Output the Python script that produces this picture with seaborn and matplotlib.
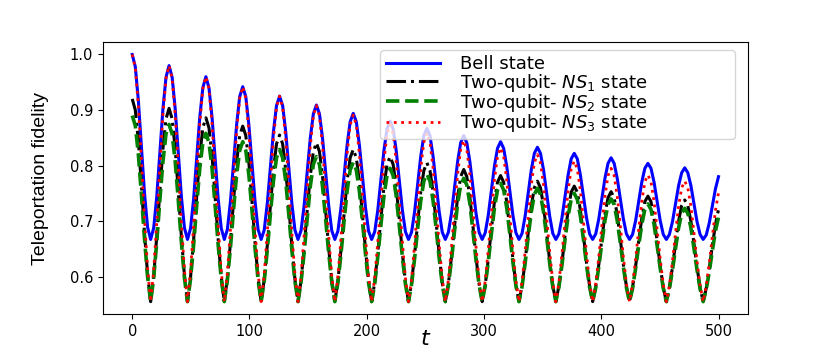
import numpy as np
import matplotlib
matplotlib.use("Agg")
import matplotlib.pyplot as plt
import seaborn as sns

# fidelity values, 12 samples per oscillation (t = 0 .. 500)
bell = [
    1.000, 0.978, 0.917, 0.834, 0.750, 0.689, 0.667, 0.688, 0.745, 0.824, 0.902, 0.959,
    0.980, 0.959, 0.902, 0.824, 0.745, 0.688, 0.667, 0.687, 0.740, 0.814, 0.887, 0.940,
    0.960, 0.940, 0.887, 0.814, 0.740, 0.687, 0.667, 0.685, 0.736, 0.805, 0.873, 0.924,
    0.942, 0.924, 0.873, 0.805, 0.736, 0.685, 0.667, 0.684, 0.732, 0.796, 0.861, 0.908,
    0.925, 0.908, 0.861, 0.796, 0.732, 0.684, 0.667, 0.683, 0.728, 0.788, 0.849, 0.893,
    0.909, 0.893, 0.849, 0.788, 0.728, 0.683, 0.667, 0.682, 0.724, 0.781, 0.837, 0.879,
    0.894, 0.879, 0.837, 0.781, 0.724, 0.682, 0.667, 0.681, 0.720, 0.774, 0.827, 0.866,
    0.880, 0.866, 0.827, 0.774, 0.720, 0.681, 0.667, 0.680, 0.717, 0.767, 0.817, 0.854,
    0.867, 0.854, 0.817, 0.767, 0.717, 0.680, 0.667, 0.680, 0.714, 0.761, 0.807, 0.841,
    0.854, 0.841, 0.807, 0.761, 0.714, 0.680, 0.667, 0.679, 0.711, 0.755, 0.799, 0.831,
    0.843, 0.831, 0.799, 0.755, 0.711, 0.679, 0.667, 0.678, 0.709, 0.750, 0.792, 0.822,
    0.833, 0.822, 0.792, 0.750, 0.709, 0.678, 0.667, 0.677, 0.706, 0.745, 0.783, 0.812,
    0.822, 0.812, 0.783, 0.745, 0.706, 0.677, 0.667, 0.677, 0.704, 0.741, 0.777, 0.804,
    0.814, 0.804, 0.777, 0.741, 0.704, 0.677, 0.667, 0.676, 0.701, 0.736, 0.770, 0.795,
    0.804, 0.795, 0.770, 0.736, 0.701, 0.676, 0.667, 0.676, 0.699, 0.732, 0.764, 0.787,
    0.796, 0.787, 0.764, 0.732, 0.699, 0.676, 0.667, 0.675, 0.697, 0.728, 0.758, 0.780,
]

ns1 = [
    0.920, 0.900, 0.844, 0.764, 0.678, 0.604, 0.555, 0.602, 0.673, 0.754, 0.830, 0.884,
    0.903, 0.884, 0.830, 0.754, 0.673, 0.602, 0.555, 0.599, 0.667, 0.744, 0.817, 0.868,
    0.886, 0.868, 0.817, 0.744, 0.667, 0.599, 0.555, 0.597, 0.662, 0.736, 0.805, 0.854,
    0.871, 0.854, 0.805, 0.736, 0.662, 0.597, 0.555, 0.595, 0.656, 0.727, 0.792, 0.839,
    0.855, 0.839, 0.792, 0.727, 0.656, 0.595, 0.555, 0.593, 0.652, 0.719, 0.781, 0.825,
    0.841, 0.825, 0.781, 0.719, 0.652, 0.593, 0.555, 0.592, 0.648, 0.712, 0.772, 0.814,
    0.829, 0.814, 0.772, 0.712, 0.648, 0.592, 0.555, 0.590, 0.643, 0.704, 0.762, 0.802,
    0.816, 0.802, 0.762, 0.704, 0.643, 0.590, 0.555, 0.589, 0.640, 0.698, 0.753, 0.791,
    0.805, 0.791, 0.753, 0.698, 0.640, 0.589, 0.555, 0.587, 0.635, 0.691, 0.743, 0.780,
    0.793, 0.780, 0.743, 0.691, 0.635, 0.587, 0.555, 0.585, 0.632, 0.685, 0.735, 0.770,
    0.782, 0.770, 0.735, 0.685, 0.632, 0.585, 0.555, 0.584, 0.628, 0.679, 0.727, 0.760,
    0.772, 0.760, 0.727, 0.679, 0.628, 0.584, 0.555, 0.583, 0.625, 0.674, 0.720, 0.752,
    0.763, 0.752, 0.720, 0.674, 0.625, 0.583, 0.555, 0.582, 0.622, 0.668, 0.712, 0.742,
    0.753, 0.742, 0.712, 0.668, 0.622, 0.582, 0.555, 0.581, 0.619, 0.664, 0.705, 0.735,
    0.745, 0.735, 0.705, 0.664, 0.619, 0.581, 0.555, 0.580, 0.617, 0.660, 0.700, 0.728,
    0.738, 0.728, 0.700, 0.660, 0.617, 0.580, 0.555, 0.579, 0.615, 0.656, 0.694, 0.721,
]

ns2 = [
    0.890, 0.872, 0.820, 0.747, 0.668, 0.600, 0.555, 0.598, 0.663, 0.738, 0.807, 0.857,
    0.874, 0.857, 0.807, 0.738, 0.663, 0.598, 0.555, 0.596, 0.657, 0.728, 0.795, 0.841,
    0.858, 0.841, 0.795, 0.728, 0.657, 0.596, 0.555, 0.594, 0.652, 0.720, 0.783, 0.827,
    0.843, 0.827, 0.783, 0.720, 0.652, 0.594, 0.555, 0.592, 0.648, 0.712, 0.772, 0.814,
    0.829, 0.814, 0.772, 0.712, 0.648, 0.592, 0.555, 0.590, 0.643, 0.704, 0.762, 0.802,
    0.816, 0.802, 0.762, 0.704, 0.643, 0.590, 0.555, 0.589, 0.640, 0.699, 0.754, 0.792,
    0.806, 0.792, 0.754, 0.699, 0.640, 0.589, 0.555, 0.587, 0.636, 0.692, 0.745, 0.782,
    0.795, 0.782, 0.745, 0.692, 0.636, 0.587, 0.555, 0.586, 0.633, 0.687, 0.737, 0.772,
    0.785, 0.772, 0.737, 0.687, 0.633, 0.586, 0.555, 0.585, 0.630, 0.682, 0.731, 0.765,
    0.777, 0.765, 0.731, 0.682, 0.630, 0.585, 0.555, 0.584, 0.627, 0.677, 0.724, 0.756,
    0.768, 0.756, 0.724, 0.677, 0.627, 0.584, 0.555, 0.582, 0.624, 0.672, 0.716, 0.748,
    0.759, 0.748, 0.716, 0.672, 0.624, 0.582, 0.555, 0.581, 0.621, 0.667, 0.709, 0.739,
    0.750, 0.739, 0.709, 0.667, 0.621, 0.581, 0.555, 0.580, 0.618, 0.661, 0.701, 0.730,
    0.740, 0.730, 0.701, 0.661, 0.618, 0.580, 0.555, 0.579, 0.615, 0.656, 0.694, 0.721,
    0.731, 0.721, 0.694, 0.656, 0.615, 0.579, 0.555, 0.578, 0.612, 0.651, 0.688, 0.714,
    0.723, 0.714, 0.688, 0.651, 0.612, 0.578, 0.555, 0.577, 0.609, 0.647, 0.682, 0.707,
]

ns3 = [
    1.000, 0.976, 0.907, 0.810, 0.705, 0.615, 0.555, 0.612, 0.699, 0.798, 0.891, 0.957,
    0.980, 0.957, 0.891, 0.798, 0.699, 0.612, 0.555, 0.609, 0.692, 0.787, 0.875, 0.938,
    0.960, 0.938, 0.875, 0.787, 0.692, 0.609, 0.555, 0.607, 0.686, 0.776, 0.861, 0.921,
    0.942, 0.921, 0.861, 0.776, 0.686, 0.607, 0.555, 0.605, 0.680, 0.767, 0.848, 0.905,
    0.925, 0.905, 0.848, 0.767, 0.680, 0.605, 0.555, 0.602, 0.674, 0.757, 0.834, 0.889,
    0.908, 0.889, 0.834, 0.757, 0.674, 0.602, 0.555, 0.600, 0.669, 0.747, 0.821, 0.873,
    0.891, 0.873, 0.821, 0.747, 0.669, 0.600, 0.555, 0.598, 0.663, 0.738, 0.807, 0.857,
    0.874, 0.857, 0.807, 0.738, 0.663, 0.598, 0.555, 0.596, 0.658, 0.729, 0.796, 0.842,
    0.859, 0.842, 0.796, 0.729, 0.658, 0.596, 0.555, 0.594, 0.653, 0.721, 0.784, 0.829,
    0.845, 0.829, 0.784, 0.721, 0.653, 0.594, 0.555, 0.592, 0.649, 0.713, 0.774, 0.817,
    0.832, 0.817, 0.774, 0.713, 0.649, 0.592, 0.555, 0.591, 0.645, 0.707, 0.765, 0.805,
    0.820, 0.805, 0.765, 0.707, 0.645, 0.591, 0.555, 0.589, 0.641, 0.700, 0.755, 0.794,
    0.808, 0.794, 0.755, 0.700, 0.641, 0.589, 0.555, 0.587, 0.636, 0.692, 0.745, 0.782,
    0.795, 0.782, 0.745, 0.692, 0.636, 0.587, 0.555, 0.586, 0.632, 0.685, 0.735, 0.771,
    0.783, 0.771, 0.735, 0.685, 0.632, 0.586, 0.555, 0.584, 0.628, 0.679, 0.727, 0.760,
    0.772, 0.760, 0.727, 0.679, 0.628, 0.584, 0.555, 0.583, 0.625, 0.673, 0.719, 0.751,
]

t = np.linspace(0, 500, len(bell))

labels = ['Bell state', 'Two-qubit- $NS_1$ state',
          'Two-qubit- $NS_2$ state', 'Two-qubit- $NS_3$ state']

fig = plt.figure(figsize=(8.3, 3.54), dpi=100)
ax = fig.add_axes([0.124, 0.113, 0.777, 0.768])

sns.lineplot(x=t, y=bell, color='blue', lw=2.2, label=labels[0], ax=ax)
sns.lineplot(x=t, y=ns1, color='black', lw=2.2, linestyle='-.', label=labels[1], ax=ax)
sns.lineplot(x=t, y=ns2, color='green', lw=2.6, linestyle='--', label=labels[2], ax=ax)
sns.lineplot(x=t, y=ns3, color='red', lw=2.0, linestyle=':', label=labels[3], ax=ax)

ax.set_xticks([0, 100, 200, 300, 400, 500])
ax.set_yticks([0.6, 0.7, 0.8, 0.9, 1.0])
ax.tick_params(labelsize=10.5)

ax.set_xlabel('$t$', fontsize=16, labelpad=-7)
ax.set_ylabel('Teleportation fidelity', fontsize=14,
              family=['Liberation Sans', 'DejaVu Sans'])
ax.yaxis.set_label_coords(-0.083, 0.5)

ax.legend(loc='upper left', bbox_to_anchor=(0.43, 0.647, 0.55, 0.324),
          mode='expand', borderaxespad=0, fontsize=13, handlelength=3.0,
          handletextpad=1.1, labelspacing=-0.1, borderpad=0.3)

fig.savefig('out.png', dpi=100)
